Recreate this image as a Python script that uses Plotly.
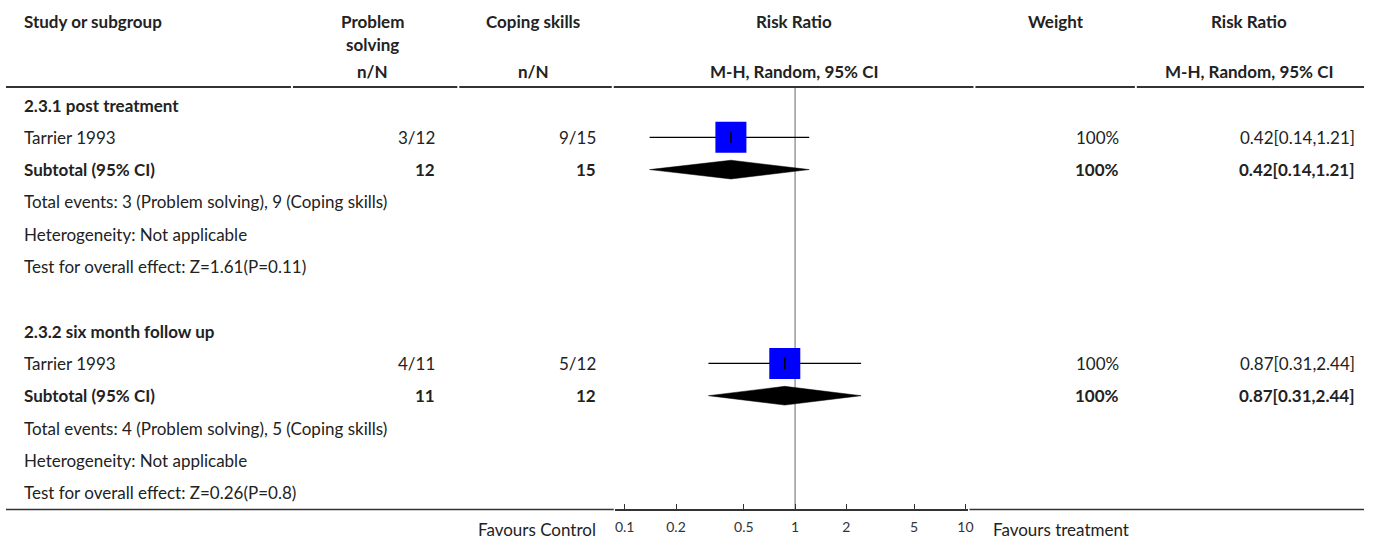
import plotly.graph_objects as go

# ---------------- data ----------------
groups = ["2.3.1 post treatment", "2.3.2 six month follow up"]
studies = ["Tarrier 1993", "Tarrier 1993"]
ps_events = [3, 4]
ps_total = [12, 11]
cs_events = [9, 5]
cs_total = [15, 12]
rr = [0.42, 0.87]
rr_lo = [0.14, 0.31]
rr_hi = [1.21, 2.44]
weights = ["100%", "100%"]
z_vals = ["1.61", "0.26"]
p_vals = ["0.11", "0.8"]
tick_vals = [0.1, 0.2, 0.5, 1, 2, 5, 10]
tick_text = ["0.1", "0.2", "0.5", "1", "2", "5", "10"]

W, H = 1375, 541
FONT = "Source Sans Pro, Lato, Noto Sans, sans-serif"
TXT = "#222222"
FS = 17

def px(x):
    return x / W

def py(y):
    return 1 - y / H

fig = go.Figure()

annotations = []

def ann(text, x, y, xanchor="left", bold=False, size=FS, yref="y", color=TXT):
    if bold:
        text = "<b>" + text + "</b>"
    annotations.append(dict(text=text, x=x, y=y, xref="paper", yref=yref,
                            xanchor=xanchor, yanchor="middle", showarrow=False,
                            font=dict(family=FONT, size=size, color=color)))

# header
ann("Study or subgroup", px(22), py(21), bold=True, yref="paper")
ann("Problem", px(374), py(21), "center", True, yref="paper")
ann("solving", px(374), py(44), "center", True, yref="paper")
ann("n/N", px(374), py(71), "center", True, yref="paper")
ann("Coping skills", px(535), py(21), "center", True, yref="paper")
ann("n/N", px(535), py(71), "center", True, yref="paper")
ann("Risk Ratio", px(797), py(21), "center", True, yref="paper")
ann("M-H, Random, 95% CI", px(797), py(71), "center", True, yref="paper")
ann("Weight", px(1060), py(21), "center", True, yref="paper")
ann("Risk Ratio", px(1254), py(21), "center", True, yref="paper")
ann("M-H, Random, 95% CI", px(1254), py(71), "center", True, yref="paper")

diamond_h = 0.29
for g in range(len(groups)):
    base = g * 7
    r_study = base + 1
    r_sub = base + 2
    ann(groups[g], px(22), base, bold=True)
    ann(studies[g], px(22), r_study)
    ann(f"{ps_events[g]}/{ps_total[g]}", px(439), r_study, "right")
    ann(f"{cs_events[g]}/{cs_total[g]}", px(600), r_study, "right")
    ann(weights[g], px(1125), r_study, "right")
    ann(f"{rr[g]:.2f}[{rr_lo[g]:.2f},{rr_hi[g]:.2f}]", px(1362), r_study, "right")
    ann("Subtotal (95% CI)", px(22), r_sub, bold=True)
    ann(f"{ps_total[g]}", px(439), r_sub, "right", True)
    ann(f"{cs_total[g]}", px(600), r_sub, "right", True)
    ann(weights[g], px(1125), r_sub, "right", True)
    ann(f"{rr[g]:.2f}[{rr_lo[g]:.2f},{rr_hi[g]:.2f}]", px(1362), r_sub, "right", True)
    ann(f"Total events: {ps_events[g]} (Problem solving), {cs_events[g]} (Coping skills)", px(22), base + 3)
    ann("Heterogeneity: Not applicable", px(22), base + 4)
    ann(f"Test for overall effect: Z={z_vals[g]}(P={p_vals[g]})", px(22), base + 5)

    # CI line
    fig.add_trace(go.Scatter(x=[rr_lo[g], rr_hi[g]], y=[r_study, r_study], mode="lines",
                             line=dict(color="black", width=1.3), hoverinfo="skip", showlegend=False))
    # square
    fig.add_trace(go.Scatter(x=[rr[g]], y=[r_study], mode="markers",
                             marker=dict(symbol="square", size=31, color="#0000FF", line=dict(width=0)),
                             hoverinfo="skip", showlegend=False))
    # centre tick
    fig.add_trace(go.Scatter(x=[rr[g]], y=[r_study], mode="markers",
                             marker=dict(symbol="line-ns", size=8, line=dict(color="black", width=1.5)),
                             hoverinfo="skip", showlegend=False))
    # diamond
    fig.add_trace(go.Scatter(x=[rr_lo[g], rr[g], rr_hi[g], rr[g], rr_lo[g]],
                             y=[r_sub, r_sub - diamond_h, r_sub, r_sub + diamond_h, r_sub],
                             mode="lines", fill="toself", fillcolor="black",
                             line=dict(color="black", width=0.5), hoverinfo="skip", showlegend=False))

# favours labels
ann("Favours Control", px(600), py(529), "right", yref="paper")
ann("Favours treatment", px(995), py(529), "left", yref="paper")

# geometry: row i at pixel 105 + 32.3*i; axis line at pixel 509
ROW0, ROWH, AXIS_PY = 105, 32.3, 509
y_top = (0 - ROW0) / ROWH
y_bot = (AXIS_PY - ROW0) / ROWH
X_C, DEC = 798, 171
x_left, x_right = 617, 972
xr = [(x_left - X_C) / DEC, (x_right - X_C) / DEC]

shapes = []
# header line & bottom line
for (a, b) in [(6, 292), (294, 459), (461, 614), (616, 977), (979, 1139), (1141, 1369)]:
    shapes.append(dict(type="line", xref="paper", yref="paper", x0=px(a), x1=px(b),
                       y0=py(87), y1=py(87), line=dict(color="#333333", width=2)))
for (a, b) in [(6, 616), (973, 1369)]:
    shapes.append(dict(type="line", xref="paper", yref="paper", x0=px(a), x1=px(b),
                       y0=py(AXIS_PY + 0.5), y1=py(AXIS_PY + 0.5), line=dict(color="#333333", width=1.5)))
# null line
shapes.append(dict(type="line", xref="x", yref="y", x0=1, x1=1, y0=(88 - ROW0) / ROWH, y1=y_bot,
                   line=dict(color="#9a9a9a", width=1.5), layer="below"))

fig.update_layout(
    width=W, height=H, margin=dict(l=0, r=0, t=0, b=0),
    plot_bgcolor="white", paper_bgcolor="white",
    xaxis=dict(type="log", range=xr, domain=[px(x_left), px(x_right)],
               tickvals=tick_vals, ticktext=tick_text, ticks="inside", ticklen=5,
               tickcolor="#333333", showline=True, linecolor="#333333", linewidth=1.5,
               showgrid=False, zeroline=False, ticklabelstandoff=4,
               tickfont=dict(family=FONT, size=14, color="#333333")),
    yaxis=dict(range=[y_bot, y_top], domain=[1 - AXIS_PY / H, 1], visible=False,
               showgrid=False, zeroline=False),
    annotations=annotations, shapes=shapes,
)

fig.write_html("out.html", config={"displayModeBar": False},
               post_script="document.body.style.margin='0';document.body.style.overflow='hidden';")
